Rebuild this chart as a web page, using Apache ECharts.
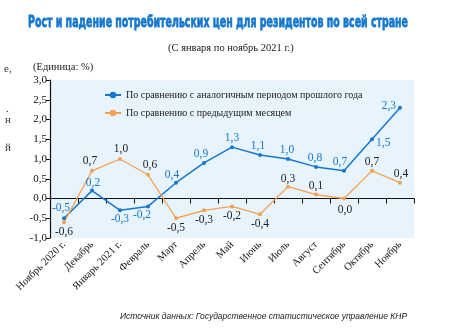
<!DOCTYPE html>
<html>
<head>
<meta charset="utf-8">
<script src="https://cdn.jsdelivr.net/npm/echarts@6/dist/echarts.min.js"></script>
<style>
html,body{margin:0;padding:0;background:#fff;}
#c{width:449px;height:335px;}
</style>
</head>
<body>
<div id="c"></div>
<script>
var categories = ['Ноябрь 2020 г.','Декабрь','Январь 2021 г.','Февраль','Март','Апрель','Май','Июнь','Июль','Август','Сентябрь','Октябрь','Ноябрь'];
var yoyValues = [-0.5, 0.2, -0.3, -0.2, 0.4, 0.9, 1.3, 1.1, 1.0, 0.8, 0.7, 1.5, 2.3];
var momValues = [-0.6, 0.7, 1.0, 0.6, -0.5, -0.3, -0.2, -0.4, 0.3, 0.1, 0.0, 0.7, 0.4];
var yTicks = {min: -1, max: 3, interval: 0.5};
var seriesNames = ['По сравнению с аналогичным периодом прошлого года', 'По сравнению с предыдущим месяцем'];
var titleText = 'Рост и падение потребительских цен для резидентов по всей стране';

// label placement styles (not data)
var yoyLabelStyle = [
  ['top',2,[-3,0]],['top',0,[1,0]],['bottom',1,[0,0]],['bottom',1,[-6,0]],
  ['top',0,[-4,0]],['top',1,[-3,0]],['top',1,[0,0]],['top',1,[-2,0]],
  ['top',1,[-1,0]],['top',1,[-1,0]],['top',1,[-4,0]],['right',2,[0,4]],['left',2,[0,-2]]
];
var momLabelStyle = [
  ['bottom',2,[0,0]],['top',2,[-2,0]],['top',2,[1,0]],['top',2,[2,0]],
  ['bottom',2,[0,0]],['bottom',2,[0,0]],['bottom',2,[0,0]],['bottom',2,[0,0]],
  ['top',0,[0,0]],['top',1,[0,0]],['bottom',3,[1,0]],['top',1,[0,0]],['top',1,[1,0]]
];

function fmt(v){ return v.toFixed(1).replace('.', ','); }
function build(vals, styles){
  return vals.map(function(v,i){
    return {value: v, label: {position: styles[i][0], distance: styles[i][1], offset: styles[i][2]}};
  });
}

var BLUE = '#1577cf', ORANGE = '#f5a04f';
var serif = 'Liberation Serif';

// fit title width to the reference span
var titleFont = 'bold 14px "DejaVu Sans"';
var cv = document.createElement('canvas').getContext('2d');
cv.font = titleFont;
var titleScale = 380 / cv.measureText(titleText).width;

var chart = echarts.init(document.getElementById('c'));
chart.setOption({
  animation: false,
  backgroundColor: '#fff',
  title: [
    {text: '(С января по ноябрь 2021 г.)', left: 163, top: 38,
     textStyle: {fontFamily: serif, fontWeight: 'normal', fontSize: 10.5, color: '#222'}},
    {text: '(Единица: %)', left: 28, top: 57,
     textStyle: {fontFamily: serif, fontWeight: 'normal', fontSize: 10.5, color: '#222'}},
    {text: 'Источник данных: Государственное статистическое управление КНР', left: 115, top: 307,
     textStyle: {fontFamily: 'Liberation Sans', fontStyle: 'italic', fontWeight: 'normal', fontSize: 8.5, color: '#222'}}
  ],
  graphic: [
    {type:'text', x: 28, y: 15, scaleX: titleScale, scaleY: 1.1,
     style:{text: titleText, font: titleFont, fill: BLUE, stroke: BLUE, lineWidth: 0.7}},
    {type:'text', left: 4, top: 64, style:{text:'е,', font:'11px "Liberation Serif"', fill:'#333'}},
    {type:'text', left: 6, top: 104, style:{text:'.', font:'11px "Liberation Serif"', fill:'#333'}},
    {type:'text', left: 5, top: 115, style:{text:'н', font:'11px "Liberation Serif"', fill:'#333'}},
    {type:'text', left: 5, top: 143, style:{text:'й', font:'11px "Liberation Serif"', fill:'#333'}}
  ],
  legend: {
    orient: 'vertical', left: 99, top: 85, itemGap: 8, itemWidth: 16, itemHeight: 8,
    data: seriesNames,
    textStyle: {fontFamily: serif, fontSize: 10, color: '#222'}
  },
  grid: {left: 50, right: 35, top: 80, bottom: 97, show: true, backgroundColor: '#e8f4fd', borderWidth: 0},
  xAxis: [
    {type: 'category', data: categories, position: 'bottom', boundaryGap: true,
     axisLine: {show: false, onZero: false}, axisTick: {show: false},
     axisLabel: {rotate: 45, margin: 5, interval: 0, fontFamily: serif, fontSize: 10.5, color: '#111'}},
    {type: 'category', data: categories, boundaryGap: true,
     axisLine: {show: true, onZero: true, lineStyle: {color: '#111', width: 1.2}},
     axisTick: {show: true, inside: true, length: 5, interval: 0, lineStyle: {color: '#111'}},
     axisLabel: {show: false}}
  ],
  yAxis: {
    type: 'value', min: yTicks.min, max: yTicks.max, interval: yTicks.interval,
    axisLine: {show: true, lineStyle: {color: '#111', width: 1.2}},
    axisTick: {show: true, length: 4, lineStyle: {color: '#111'}},
    splitLine: {show: false},
    axisLabel: {margin: 3, fontFamily: serif, fontSize: 11, color: '#111', formatter: function(v){ return fmt(v); }}
  },
  series: [
    {name: seriesNames[0], type: 'line', xAxisIndex: 0, data: build(yoyValues, yoyLabelStyle),
     symbol: 'circle', symbolSize: 4, lineStyle: {color: BLUE, width: 1.5}, itemStyle: {color: BLUE},
     label: {show: true, fontFamily: serif, fontSize: 11.5, color: BLUE, formatter: function(p){ return fmt(p.value); }}},
    {name: seriesNames[1], type: 'line', xAxisIndex: 0, data: build(momValues, momLabelStyle),
     symbol: 'circle', symbolSize: 4, lineStyle: {color: ORANGE, width: 1.3}, itemStyle: {color: ORANGE},
     label: {show: true, fontFamily: serif, fontSize: 11.5, color: '#222', formatter: function(p){ return fmt(p.value); }}}
  ]
});
</script>
</body>
</html>
